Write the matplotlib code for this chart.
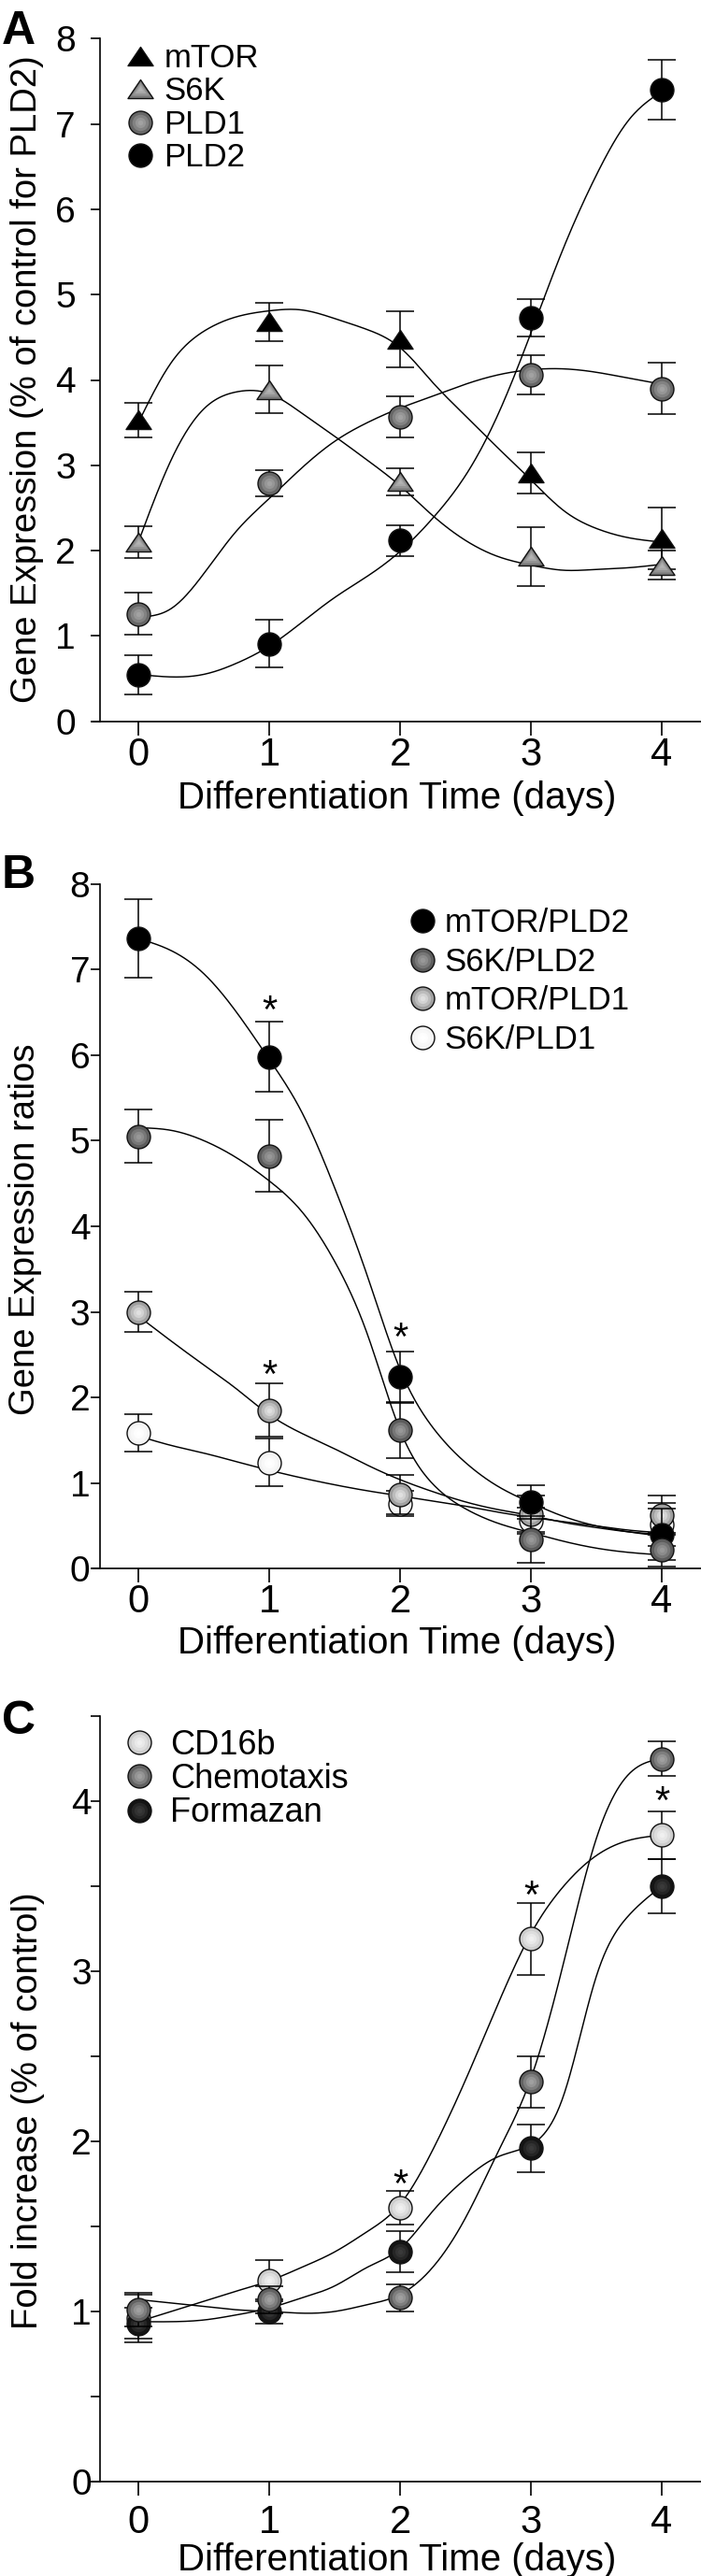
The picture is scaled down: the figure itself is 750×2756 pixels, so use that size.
import numpy as np
import matplotlib
matplotlib.use('Agg')
import matplotlib.pyplot as plt
from matplotlib.path import Path
from matplotlib.lines import Line2D
from matplotlib.legend_handler import HandlerTuple
from matplotlib.colors import to_rgb

plt.rcParams['font.family'] = ['Liberation Sans', 'DejaVu Sans']

# ---- data ----
days = [0, 1, 2, 3, 4]
fit_x = [0, 0.25, 0.5, 0.75, 1, 1.25, 1.5, 1.75, 2, 2.25, 2.5, 2.75, 3, 3.25, 3.5, 3.75, 4]

# panel A
mtor = [3.53, 4.68, 4.48, 2.91, 2.14]
mtor_err = [0.2, 0.22, 0.33, 0.24, 0.36]
s6k = [2.1, 3.89, 2.81, 1.93, 1.83]
s6k_err = [0.19, 0.28, 0.16, 0.34, 0.17]
pld1 = [1.26, 2.79, 3.57, 4.06, 3.9]
pld1_err = [0.25, 0.15, 0.24, 0.23, 0.3]
pld2 = [0.54, 0.91, 2.12, 4.73, 7.4]
pld2_err = [0.23, 0.28, 0.18, 0.22, 0.35]
fit_mtor = [3.5, 4.2, 4.57, 4.74, 4.81, 4.82, 4.72, 4.59, 4.38, 3.97, 3.58, 3.2, 2.83, 2.47, 2.26, 2.15, 2.1]
fit_s6k = [2.1, 3.06, 3.66, 3.86, 3.84, 3.61, 3.34, 3.06, 2.76, 2.41, 2.12, 1.93, 1.83, 1.77, 1.78, 1.8, 1.84]
fit_pld1 = [1.22, 1.32, 1.73, 2.23, 2.61, 2.97, 3.28, 3.5, 3.67, 3.81, 3.95, 4.06, 4.12, 4.13, 4.09, 4.02, 3.95]
fit_pld2 = [0.55, 0.52, 0.55, 0.68, 0.88, 1.16, 1.45, 1.7, 1.99, 2.38, 2.88, 3.6, 4.55, 5.55, 6.4, 7.05, 7.38]

# panel B
mtor_pld2 = [7.36, 5.98, 2.24, 0.78, 0.4]
mtor_pld2_err = [0.46, 0.41, 0.3, 0.2, 0.3]
s6k_pld2 = [5.05, 4.82, 1.62, 0.34, 0.22]
s6k_pld2_err = [0.31, 0.42, 0.33, 0.27, 0.2]
mtor_pld1 = [3.0, 1.85, 0.87, 0.64, 0.63]
mtor_pld1_err = [0.24, 0.31, 0.23, 0.21, 0.23]
s6k_pld1 = [1.59, 1.24, 0.76, 0.56, 0.52]
s6k_pld1_err = [0.22, 0.28, 0.15, 0.15, 0.25]
fit_mtor_pld2 = [7.36, 7.22, 6.95, 6.5, 5.95, 5.33, 4.45, 3.42, 2.33, 1.65, 1.24, 0.96, 0.77, 0.61, 0.5, 0.43, 0.38]
fit_s6k_pld2 = [5.15, 5.12, 5.0, 4.8, 4.53, 4.17, 3.59, 2.74, 1.62, 0.99, 0.7, 0.53, 0.42, 0.32, 0.24, 0.19, 0.16]
fit_mtor_pld1 = [2.95, 2.66, 2.38, 2.1, 1.8, 1.58, 1.4, 1.21, 1.04, 0.9, 0.78, 0.69, 0.62, 0.54, 0.48, 0.43, 0.4]
fit_s6k_pld1 = [1.55, 1.44, 1.35, 1.25, 1.15, 1.06, 0.98, 0.91, 0.85, 0.79, 0.73, 0.66, 0.6, 0.55, 0.5, 0.45, 0.42]
stars_b_x = [1, 1, 2]
stars_b_y = [6.6, 2.35, 2.78]

# panel C
cd16b = [0.96, 1.18, 1.61, 3.19, 3.8]
cd16b_err = [0.14, 0.12, 0.1, 0.21, 0.14]
chemo = [1.01, 1.07, 1.08, 2.35, 4.25]
chemo_err = [0.1, 0.08, 0.08, 0.15, 0.1]
formazan = [0.93, 1.0, 1.35, 1.96, 3.5]
formazan_err = [0.09, 0.07, 0.12, 0.14, 0.16]
fit_cd16b = [0.94, 1.0, 1.06, 1.12, 1.18, 1.26, 1.35, 1.47, 1.63, 1.95, 2.36, 2.81, 3.22, 3.5, 3.68, 3.77, 3.8]
fit_chemo = [1.07, 1.05, 1.03, 1.01, 1.0, 0.99, 1.0, 1.04, 1.1, 1.26, 1.55, 1.94, 2.37, 3.05, 3.78, 4.16, 4.25]
fit_formazan = [0.94, 0.94, 0.95, 0.98, 1.02, 1.08, 1.15, 1.26, 1.37, 1.59, 1.78, 1.91, 1.98, 2.27, 2.97, 3.33, 3.5]
stars_c_x = [2, 3, 4]
stars_c_y = [1.79, 3.49, 4.04]

W, H = 750, 2756
fig = plt.figure(figsize=(W / 100, H / 100), dpi=100)

tri = Path([(0, 0.74), (-1, -0.74), (1, -0.74), (0, 0.74)],
           [Path.MOVETO, Path.LINETO, Path.LINETO, Path.CLOSEPOLY])


def px_axes(x0, x1, ytop, ybot):
    return fig.add_axes([x0 / W, 1 - ybot / H, (x1 - x0) / W, (ybot - ytop) / H])


def spline(xk, yk, n=400):
    # natural cubic spline through the fitted-curve knots
    xk = np.asarray(xk, float)
    yk = np.asarray(yk, float)
    h = np.diff(xk)
    m = len(xk)
    A = np.zeros((m, m))
    r = np.zeros(m)
    A[0, 0] = A[-1, -1] = 1
    for i in range(1, m - 1):
        A[i, i - 1] = h[i - 1]
        A[i, i] = 2 * (h[i - 1] + h[i])
        A[i, i + 1] = h[i]
        r[i] = 6 * ((yk[i + 1] - yk[i]) / h[i] - (yk[i] - yk[i - 1]) / h[i - 1])
    M = np.linalg.solve(A, r)
    xs = np.linspace(xk[0], xk[-1], n)
    i = np.clip(np.searchsorted(xk, xs) - 1, 0, m - 2)
    t0 = xk[i + 1] - xs
    t1 = xs - xk[i]
    ys = (M[i] * t0 ** 3 + M[i + 1] * t1 ** 3) / (6 * h[i]) \
        + (yk[i] / h[i] - M[i] * h[i] / 6) * t0 + (yk[i + 1] / h[i] - M[i + 1] * h[i] / 6) * t1
    return xs, ys


def mix(c1, c2, t):
    a, b = np.array(to_rgb(c1)), np.array(to_rgb(c2))
    return tuple(a + (b - a) * t)


def series(ax, y, err, fit, face, hi, marker='o', ms=18, z=3):
    ax.plot(*spline(fit_x, fit), color='black', lw=1.05, zorder=2)
    ax.errorbar(days, y, yerr=err, fmt='none', ecolor='black', elinewidth=1.1,
                capsize=11, capthick=1.1, zorder=z)
    ax.plot(days, y, linestyle='none', marker=marker, ms=ms, mfc=face,
            mec='#111111', mew=1.0, zorder=z + 0.1)
    handles = [Line2D([], [], linestyle='none', marker=marker, ms=ms, mfc=face,
                      mec='#111111', mew=1.0)]
    if hi is not None:
        for k, (s, t) in enumerate([(0.7, 0.45), (0.45, 0.8), (0.22, 1.0)]):
            c = mix(face, hi, t)
            ax.plot(days, y, linestyle='none', marker=marker, ms=ms * s, mfc=c,
                    mec='none', zorder=z + 0.2 + k * 0.01)
            handles.append(Line2D([], [], linestyle='none', marker=marker, ms=ms * s,
                                  mfc=c, mec='none'))
    return tuple(handles)


def style(ax, ylim, ypad):
    ax.set_xlim(-0.35, 4.3)
    ax.set_ylim(*ylim)
    for s in ['top', 'right']:
        ax.spines[s].set_visible(False)
    ax.spines['left'].set_position(('data', -0.29))
    for s in ['left', 'bottom']:
        ax.spines[s].set_linewidth(1.2)
    ax.set_xticks(days)
    ax.tick_params(axis='x', direction='out', length=10.5, width=1.2, labelsize=30, pad=1)
    ax.tick_params(axis='y', direction='out', length=7, width=1.2, labelsize=28, pad=ypad)


def legend(ax, handles, labels, x, y, fs, tp, ls):
    ax.legend(handles, labels, loc='upper left', bbox_to_anchor=(x / W, 1 - y / H),
              bbox_transform=fig.transFigure, frameon=False, fontsize=fs,
              handlelength=0.8, handletextpad=tp, labelspacing=ls, borderpad=0,
              borderaxespad=0, handler_map={tuple: HandlerTuple(ndivide=1)})


def stars(ax, xs, ys):
    for x, y in zip(xs, ys):
        ax.annotate('*', (x, y), xytext=(0, -7), textcoords='offset points',
                    ha='center', va='center', fontsize=30, zorder=6)


# ---- panel A ----
axA = px_axes(99, 750, 41.3, 771.7)
style(axA, (0, 8), 12)
axA.set_yticks(range(0, 9))
hA = [series(axA, mtor, mtor_err, fit_mtor, '#000000', None, marker=tri, ms=19.5),
      series(axA, s6k, s6k_err, fit_s6k, '#7a7a7a', '#b4b4b4', marker=tri, ms=19.5, z=3.5),
      series(axA, pld1, pld1_err, fit_pld1, '#676767', '#a2a2a2'),
      series(axA, pld2, pld2_err, fit_pld2, '#000000', None)]
legend(axA, hA, ['mTOR', 'S6K', 'PLD1', 'PLD2'], 136, 46, 25, 0.33, 0.07)

# ---- panel B ----
axB = px_axes(99, 750, 945.5, 1678.3)
style(axB, (0, 8), 1)
axB.set_yticks(range(0, 9))
h_s6k_pld1 = series(axB, s6k_pld1, s6k_pld1_err, fit_s6k_pld1, '#f3f3f3', '#ffffff', z=3)
h_mtor_pld1 = series(axB, mtor_pld1, mtor_pld1_err, fit_mtor_pld1, '#9f9f9f', '#e0e0e0', z=3.3)
h_mtor_pld2 = series(axB, mtor_pld2, mtor_pld2_err, fit_mtor_pld2, '#000000', None, z=3.6)
h_s6k_pld2 = series(axB, s6k_pld2, s6k_pld2_err, fit_s6k_pld2, '#5c5c5c', '#989898', z=3.9)
stars(axB, stars_b_x, stars_b_y)
legend(axB, [h_mtor_pld2, h_s6k_pld2, h_mtor_pld1, h_s6k_pld1],
       ['mTOR/PLD2', 'S6K/PLD2', 'mTOR/PLD1', 'S6K/PLD1'], 438, 971, 25, 0.29, 0.25)

# ---- panel C ----
axC = px_axes(99, 750, 1836, 2655)
style(axC, (0, 4.5), 0)
axC.set_yticks(np.arange(0, 4.51, 0.5))
axC.set_yticklabels(['0', '', '1', '', '2', '', '3', '', '4', ''])
axC.tick_params(axis='x', pad=7)
h_cd = series(axC, cd16b, cd16b_err, fit_cd16b, '#cdcdcd', '#f0f0f0', z=3)
h_fo = series(axC, formazan, formazan_err, fit_formazan, '#141414', '#3a3a3a', z=3.3)
h_ch = series(axC, chemo, chemo_err, fit_chemo, '#626262', '#a0a0a0', z=3.6)
stars(axC, stars_c_x, stars_c_y)
legend(axC, [h_cd, h_ch, h_fo], ['CD16b', 'Chemotaxis', 'Formazan'], 135, 1850, 26, 0.51, 0.03)

# ---- labels ----
xl = 'Differentiation Time (days)'
for ytop in [835, 1739, 2720]:
    fig.text(425 / W, 1 - ytop / H, xl, ha='center', va='top', fontsize=29)
ylabels = [(29, 406, 'Gene Expression (% of control for PLD2)'),
           (27, 1315, 'Gene Expression ratios'),
           (30, 2258, 'Fold increase (% of control)')]
for x, y, t in ylabels:
    fig.text(x / W, 1 - y / H, t, rotation=90, ha='center', va='center', fontsize=27.5)
for y, t in [(11, 'A'), (914, 'B'), (1819, 'C')]:
    fig.text(0.002, 1 - y / H, t, ha='left', va='top', fontsize=36, fontweight='bold')

fig.savefig('out.png', dpi=100)
